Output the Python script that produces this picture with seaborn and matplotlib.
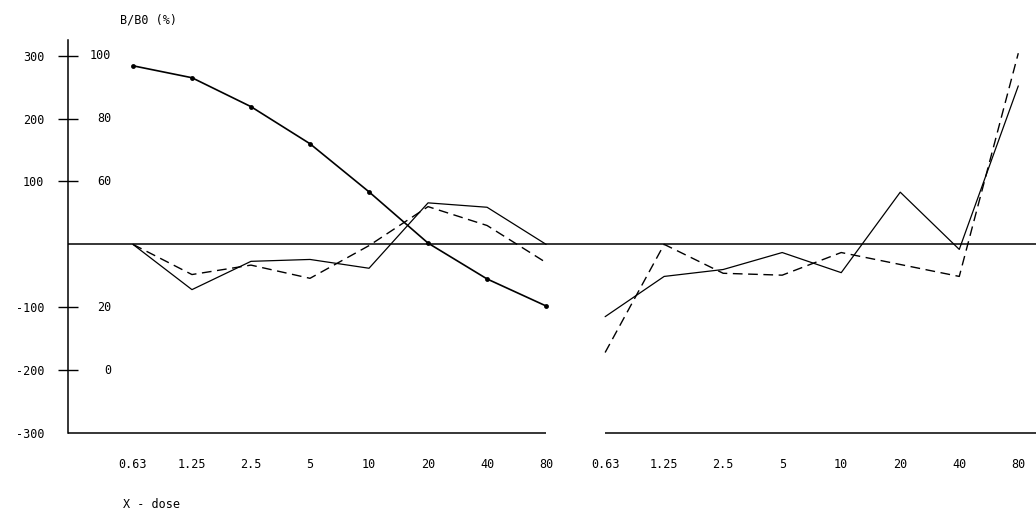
import pandas as pd
import matplotlib.pyplot as plt
import matplotlib.transforms as mtransforms
import seaborn as sns

# dose categories, same for both panels
doses = ['0.63', '1.25', '2.5', '5', '10', '20', '40', '80']

# B/B0 (%) curve (left panel)
bb0 = [96.8, 93.0, 83.8, 72.0, 56.7, 40.4, 29.0, 20.4]
bb0_ticks = [100, 80, 60, 20, 0]

# difference curves, left panel
left_solid = [0, -72, -27, -24, -38, 66, 59, 0]
left_dash = [0, -48, -33, -54, -2, 60, 30, -29]

# difference curves, right panel
right_solid = [-115, -51, -40, -13, -45, 83, -8, 252]
right_dash = [-172, 0, -46, -49, -13, -32, -51, 304]

y_ticks = [-200, -100, 100, 200, 300]

n = len(doses)
left = pd.DataFrame({'pos': range(n), 'solid': left_solid, 'dash': left_dash, 'bb0': bb0})
right = pd.DataFrame({'pos': range(n, 2 * n), 'solid': right_solid, 'dash': right_dash})

sns.set_style('white')
plt.rcParams['font.family'] = ['DejaVu Sans Mono']
plt.rcParams['font.size'] = 8.5
plt.rcParams['text.color'] = 'black'

fig = plt.figure(figsize=(10.36, 5.22), dpi=100)
ax = fig.add_axes([68 / 1036, 89 / 522, 968 / 1036, 393 / 522])
ax.set_xlim(-1.1, 15.3)
ax.set_ylim(-300, 325)

dash = (0, (7, 4))
for df in [left, right]:
    sns.lineplot(data=df, x='pos', y='solid', ax=ax, color='black', lw=0.9)
    sns.lineplot(data=df, x='pos', y='dash', ax=ax, color='black', lw=1.0, linestyle=dash)

ax.axhline(0, color='black', lw=1.1)

# B/B0 curve on its own scale
ax2 = ax.twinx()
ax2.set_ylim(-20, 105)
sns.lineplot(data=left, x='pos', y='bb0', ax=ax2, color='black', lw=1.2,
             marker='o', markersize=3.5, markeredgewidth=0)
ax2.axis('off')

# axes styling
for s in ['top', 'right', 'bottom']:
    ax.spines[s].set_visible(False)
ax.spines['left'].set_color('black')
ax.spines['left'].set_linewidth(1.1)

# broken bottom axis
x0, x1 = ax.get_xlim()
ax.hlines(-300, x0, n - 1, color='black', lw=1.1, clip_on=False)
ax.hlines(-300, n, x1, color='black', lw=1.1, clip_on=False)

ax.set_xticks(range(2 * n), doses * 2)
ax.tick_params(axis='x', direction='in', length=5, width=0.9, pad=18, colors='black')
ax.set_yticks(y_ticks, [str(t) for t in y_ticks])
ax.set_yticks([-300], ['-300'], minor=True)
ax.tick_params(axis='y', which='major', direction='inout', length=14, width=1, pad=10, colors='black')
ax.tick_params(axis='y', which='minor', length=0, pad=17, colors='black')
ax.set_xlabel('')
ax.set_ylabel('')

# second scale labels (B/B0 %)
tr = mtransforms.blended_transform_factory(ax.transAxes, ax2.transData)
for t in bb0_ticks:
    ax.text(43 / 968, t, str(t), transform=tr, ha='right', va='center', color='black')

fig.text(120 / 1036, 1 - 20 / 522, 'B/B0 (%)', ha='left', va='center', color='black')
fig.text(123 / 1036, 1 - 504 / 522, 'X - dose', ha='left', va='center', color='black')

plt.savefig('out.png', dpi=100, facecolor='white')
